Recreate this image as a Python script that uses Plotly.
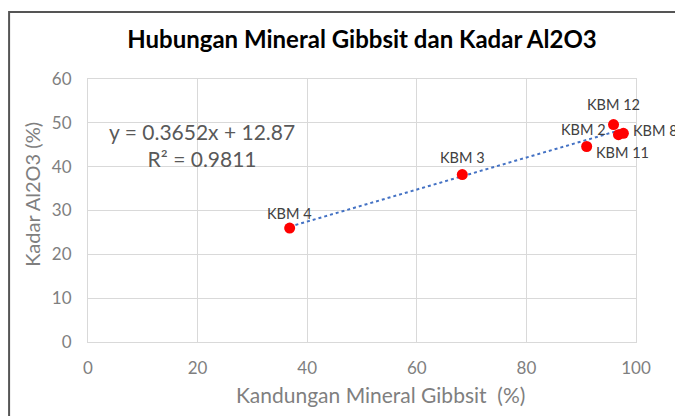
import plotly.graph_objects as go

labels = ["KBM 4", "KBM 3", "KBM 11", "KBM 12", "KBM 2", "KBM 8"]
gibbsit = [36.8, 68.3, 91.0, 95.9, 96.8, 97.7]
al2o3 = [26.0, 38.2, 44.6, 49.6, 47.3, 47.6]

# label offsets in pixels (style only)
label_shift = {
    "KBM 4": (0, 15), "KBM 3": (0, 17), "KBM 11": (36, -6),
    "KBM 12": (0, 20), "KBM 2": (-35, 5), "KBM 8": (32, 3),
}

slope, intercept = 0.3652, 12.87
r2 = 0.9811

x_ticks = [0, 20, 40, 60, 80, 100]
y_ticks = [0, 10, 20, 30, 40, 50, 60]

x_title = "Kandungan Mineral Gibbsit  (%)"
y_title = "Kadar Al2O3 (%)"
chart_title = "Hubungan Mineral Gibbsit dan Kadar Al2O3"

trend_x = [min(gibbsit), max(gibbsit)]
trend_y = [slope * v + intercept for v in trend_x]

FONT = "Lato"
GRAY = "#7f7f7f"

fig = go.Figure()
fig.add_trace(go.Scatter(
    x=trend_x, y=trend_y, mode="lines",
    line=dict(color="#4472c4", width=2, dash="dot"),
    hoverinfo="skip", showlegend=False, cliponaxis=False))
fig.add_trace(go.Scatter(
    x=gibbsit, y=al2o3, mode="markers",
    marker=dict(color="#ff0000", size=11),
    showlegend=False, cliponaxis=False))

for lab, xv, yv in zip(labels, gibbsit, al2o3):
    dx, dy = label_shift[lab]
    fig.add_annotation(x=xv, y=yv, text=lab, showarrow=False,
                       xshift=dx, yshift=dy, xanchor="center", yanchor="middle",
                       font=dict(family=FONT, size=14.5, color="#404040"))

fig.add_annotation(
    xref="paper", yref="paper", x=0.208, y=0.75, xanchor="center", yanchor="middle",
    text=f"y = {slope}x + {intercept}<br>R² = {r2}", showarrow=False, align="center",
    font=dict(family=FONT, size=21, color="#595959"))

# axis titles
fig.add_annotation(
    xref="paper", yref="paper", x=0.533, y=-0.2, xanchor="center", yanchor="middle",
    text=x_title, showarrow=False, font=dict(family=FONT, size=21, color=GRAY))
fig.add_annotation(
    xref="paper", yref="paper", x=-0.102, y=0.56, xanchor="center", yanchor="middle",
    text=y_title, textangle=-90, showarrow=False,
    font=dict(family=FONT, size=20, color=GRAY))

fig.add_shape(type="rect", xref="paper", yref="paper",
              x0=-0.144, y0=-0.4, x1=1.2, y1=1.255,
              line=dict(color="#555555", width=2), layer="above")

fig.update_layout(
    width=675, height=416,
    margin=dict(l=88, r=39, t=79, b=74, autoexpand=False),
    paper_bgcolor="white", plot_bgcolor="white",
    title=dict(text=f"<b>{chart_title}</b>",
               x=0.5363, xanchor="center", y=0.9038, yanchor="middle",
               font=dict(family=FONT, size=24, color="#000000")),
    xaxis=dict(range=[0, 100], tickvals=x_ticks, showgrid=True, gridcolor="#d9d9d9",
               zeroline=False, showline=True, linecolor="#d9d9d9", mirror=True,
               ticks="", ticklabelstandoff=11, automargin=False,
               tickfont=dict(family=FONT, size=17, color=GRAY)),
    yaxis=dict(range=[0, 60], tickvals=y_ticks, showgrid=True, gridcolor="#d9d9d9",
               zeroline=False, showline=True, linecolor="#d9d9d9", mirror=True,
               ticks="", ticklabelstandoff=12, automargin=False,
               tickfont=dict(family=FONT, size=17, color=GRAY)),
)

fig.write_html("out.html", config={"displayModeBar": False},
               post_script="document.body.style.margin='0';document.body.style.overflow='hidden';")
